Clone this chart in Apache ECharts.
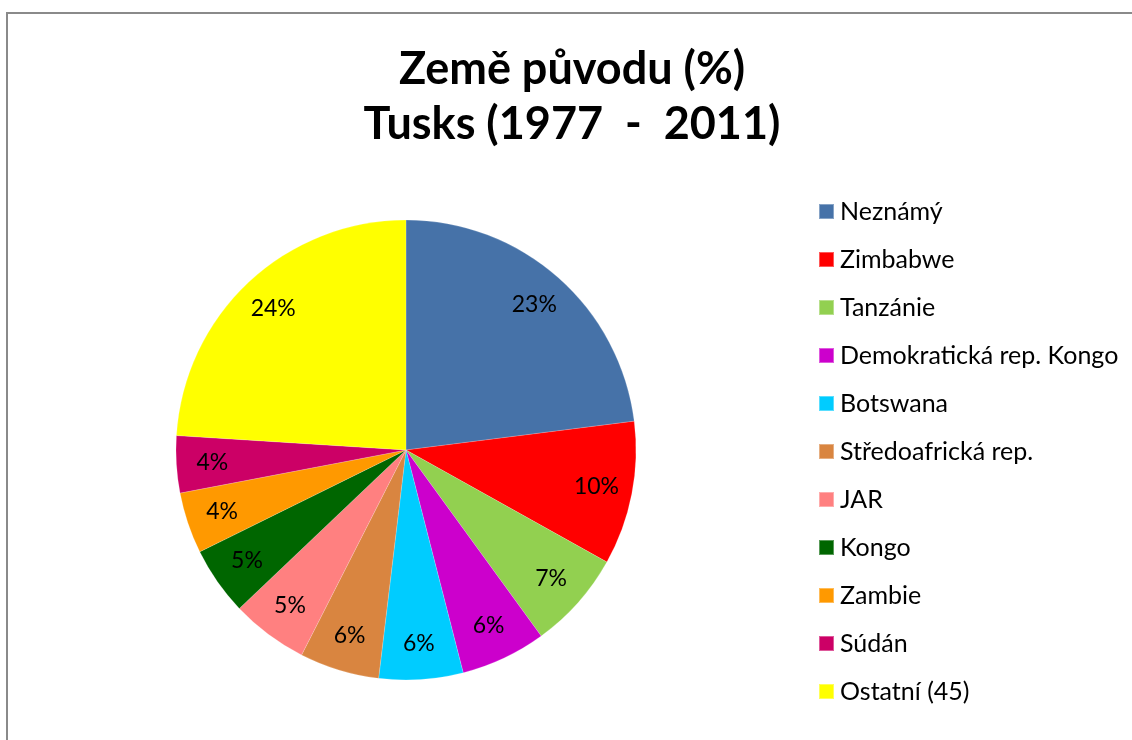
<!DOCTYPE html>
<html>
<head>
<meta charset="utf-8">
<script src="https://cdn.jsdelivr.net/npm/echarts@6/dist/echarts.min.js"></script>
<style>
  html, body { margin: 0; padding: 0; background: #fff; }
  #chart { width: 1132px; height: 740px; }
</style>
</head>
<body>
<div id="chart"></div>
<script>
// data (share of tusks, %)
var countries = ['Neznámý', 'Zimbabwe', 'Tanzánie', 'Demokratická rep. Kongo', 'Botswana',
    'Středoafrická rep.', 'JAR', 'Kongo', 'Zambie', 'Súdán', 'Ostatní (45)'];
var shares = [23.0, 10.1, 6.9, 6.0, 5.9, 5.6, 5.4, 4.8, 4.3, 4.0, 24.0];
var colors = ['#4672A8', '#FF0000', '#92D050', '#CC00CC', '#00CCFF',
    '#D98540', '#FF8080', '#006600', '#FF9900', '#CC0066', '#FFFF00'];

var font = 'Lato, "Open Sans", sans-serif';

var chart = echarts.init(document.getElementById('chart'));

var sliceData = countries.map(function (name, i) {
    return { name: name, value: shares[i], itemStyle: { color: colors[i] } };
});

var option = {
    backgroundColor: '#fff',
    animation: false,
    title: {
        text: 'Země původu (%)\nTusks (1977  -  2011)',
        left: 567,
        top: 37,
        textAlign: 'center',
        textStyle: {
            fontFamily: font,
            fontWeight: 'bold',
            fontSize: 45,
            lineHeight: 55,
            color: '#000'
        }
    },
    legend: {
        orient: 'vertical',
        left: 813,
        top: 194,
        itemWidth: 15,
        itemHeight: 15,
        itemGap: 23,
        icon: 'rect',
        data: countries,
        textStyle: {
            fontFamily: font,
            fontSize: 25,
            lineHeight: 25,
            color: '#000',
            padding: [0, 0, 0, 1]
        }
    },
    graphic: [{
        type: 'rect',
        shape: { x: 7, y: 13, width: 1300, height: 900 },
        style: { fill: 'none', stroke: '#8a8a8a', lineWidth: 2 },
        silent: true
    }],
    series: [{
        type: 'pie',
        center: [406, 450],
        radius: 230,
        startAngle: 90,
        label: { show: false },
        labelLine: { show: false },
        itemStyle: { borderColor: 'rgba(255,255,255,0.35)', borderWidth: 0.5 },
        data: sliceData
    }, {
        // transparent copy that only places the labels further out
        type: 'pie',
        center: [406, 450],
        radius: [152, 230],
        startAngle: 90,
        silent: true,
        legendHoverLink: false,
        itemStyle: { color: 'rgba(0,0,0,0)' },
        label: {
            show: true,
            position: 'inside',
            fontFamily: font,
            fontSize: 23,
            color: '#000',
            formatter: function (p) { return Math.round(p.value) + '%'; }
        },
        labelLine: { show: false },
        data: countries.map(function (name, i) { return { name: name, value: shares[i] }; })
    }]
};

chart.setOption(option);
</script>
</body>
</html>
